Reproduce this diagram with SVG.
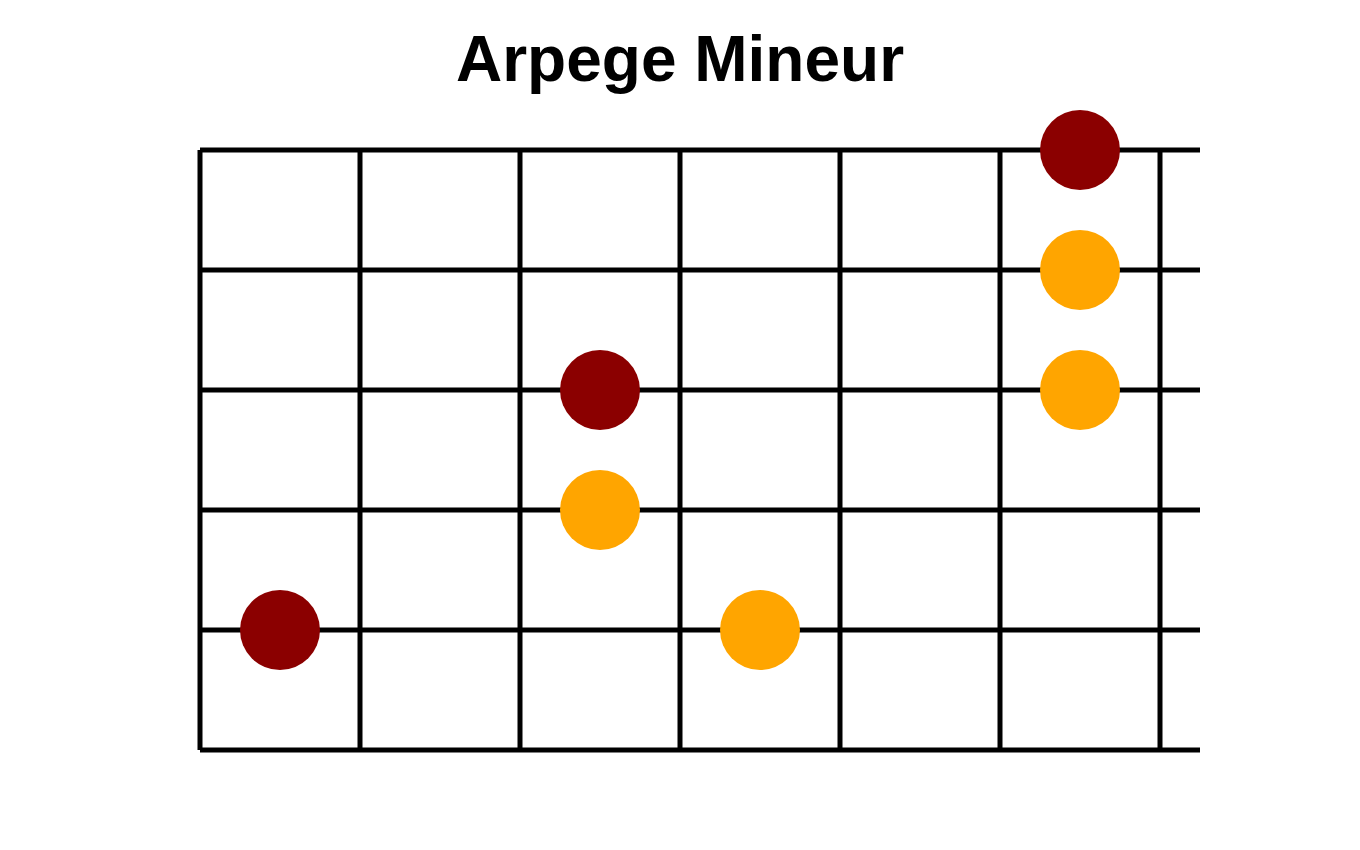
<svg xmlns="http://www.w3.org/2000/svg" width="1360" height="850" viewBox="0 0 1360 850">
<style>
.g{stroke:#000;stroke-width:5;fill:none}
.root{fill:#8B0000}
.note{fill:#FFA500}
.title{font-family:"Liberation Sans",Arial,sans-serif;font-weight:bold;font-size:64px;fill:#000}
</style>
<rect width="1360" height="850" fill="#fff"/>
<text class="title" x="680" y="81" text-anchor="middle">Arpege Mineur</text>
<g id="connectors">
<g class="g">
<line x1="200" y1="150" x2="1200" y2="150"/>
<line x1="200" y1="270" x2="1200" y2="270"/>
<line x1="200" y1="390" x2="1200" y2="390"/>
<line x1="200" y1="510" x2="1200" y2="510"/>
<line x1="200" y1="630" x2="1200" y2="630"/>
<line x1="200" y1="750" x2="1200" y2="750"/>
<line x1="200" y1="150" x2="200" y2="750"/>
<line x1="360" y1="150" x2="360" y2="750"/>
<line x1="520" y1="150" x2="520" y2="750"/>
<line x1="680" y1="150" x2="680" y2="750"/>
<line x1="840" y1="150" x2="840" y2="750"/>
<line x1="1000" y1="150" x2="1000" y2="750"/>
<line x1="1160" y1="150" x2="1160" y2="750"/>
</g>
</g>
<g id="n1"><circle class="root" cx="1080" cy="150" r="40"/></g>
<g id="n2"><circle class="note" cx="1080" cy="270" r="40"/></g>
<g id="n3"><circle class="note" cx="1080" cy="390" r="40"/></g>
<g id="n4"><circle class="root" cx="600" cy="390" r="40"/></g>
<g id="n5"><circle class="note" cx="600" cy="510" r="40"/></g>
<g id="n6"><circle class="root" cx="280" cy="630" r="40"/></g>
<g id="n7"><circle class="note" cx="760" cy="630" r="40"/></g>
</svg>
